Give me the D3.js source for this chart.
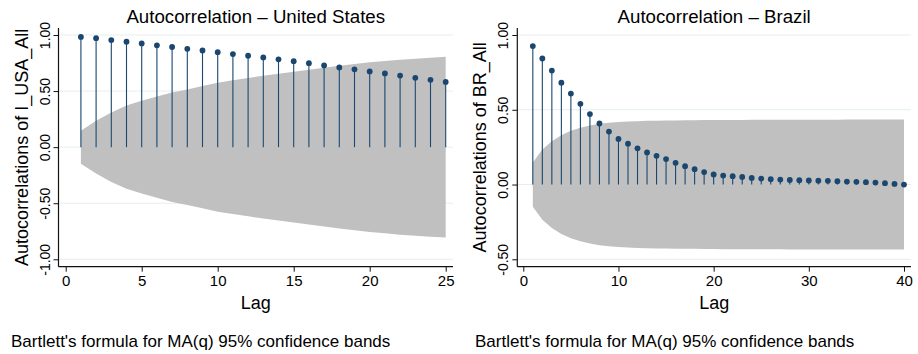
<!DOCTYPE html>
<html>
<head>
<meta charset="utf-8">
<script src="https://cdn.jsdelivr.net/npm/d3@7"></script>
<style>
  body { margin: 0; background: #fff; }
  svg { display: block; font-family: "Liberation Sans", Arial, Helvetica, sans-serif; }
</style>
</head>
<body>
<div id="chart"></div>
<script>
// lags
var usaLags = [1, 2, 3, 4, 5, 6, 7, 8, 9, 10, 11, 12, 13, 14, 15, 16, 17, 18, 19, 20, 21, 22, 23, 24, 25];
var brLags = [1, 2, 3, 4, 5, 6, 7, 8, 9, 10, 11, 12, 13, 14, 15, 16, 17, 18, 19, 20,
  21, 22, 23, 24, 25, 26, 27, 28, 29, 30, 31, 32, 33, 34, 35, 36, 37, 38, 39, 40];

// autocorrelations
var usaAcf = [0.983, 0.972, 0.955, 0.940, 0.925, 0.908, 0.893, 0.877, 0.862, 0.847, 0.830, 0.815, 0.800,
  0.783, 0.767, 0.749, 0.729, 0.711, 0.694, 0.675, 0.657, 0.638, 0.618, 0.600, 0.582];
var brAcf = [0.926, 0.843, 0.762, 0.681, 0.608, 0.540, 0.471, 0.408, 0.354, 0.305, 0.273, 0.242, 0.215,
  0.192, 0.170, 0.145, 0.123, 0.103, 0.083, 0.067, 0.060, 0.056, 0.051, 0.044, 0.040, 0.036, 0.033,
  0.031, 0.029, 0.027, 0.026, 0.025, 0.022, 0.020, 0.018, 0.016, 0.013, 0.009, 0.004, 0.000];

// 95% band half-widths (Bartlett)
var usaBand = [0.147, 0.235, 0.310, 0.372, 0.414, 0.452, 0.488, 0.515, 0.545, 0.575, 0.597, 0.617, 0.637,
  0.655, 0.672, 0.690, 0.708, 0.726, 0.741, 0.756, 0.768, 0.780, 0.789, 0.798, 0.806];
var brBand = [0.148, 0.235, 0.290, 0.330, 0.360, 0.380, 0.395, 0.406, 0.413, 0.418, 0.421, 0.424, 0.426,
  0.427, 0.428, 0.429, 0.430, 0.430, 0.431, 0.431, 0.432, 0.432, 0.432, 0.433, 0.433, 0.433, 0.433,
  0.434, 0.434, 0.434, 0.434, 0.434, 0.434, 0.435, 0.435, 0.435, 0.435, 0.435, 0.435, 0.435];

var usaYTicks = [-1, -0.5, 0, 0.5, 1];
var brYTicks = [-0.5, 0, 0.5, 1];
var usaXTicks = [0, 5, 10, 15, 20, 25];
var brXTicks = [0, 10, 20, 30, 40];

var width = 918, height = 354;
var navy = "#1a476f";

var svg = d3.select("#chart").append("svg")
  .attr("width", width)
  .attr("height", height);

function drawPanel(p) {
  var g = svg.append("g");

  var x = d3.scaleLinear().domain(p.xDomain).range([p.x0, p.x1]);
  var y = d3.scaleLinear().domain(p.yDomain).range([p.y0, p.y1]);

  var rows = p.lags.map(function (d, i) {
    return { lag: d, r: p.acf[i], band: p.band[i] };
  });

  // grid
  g.selectAll(".grid")
    .data(p.yTicks)
    .enter().append("line")
    .attr("x1", p.left).attr("x2", p.right)
    .attr("y1", function (d) { return y(d) })
    .attr("y2", function (d) { return y(d) })
    .attr("stroke", "#e6eef0")
    .attr("stroke-width", 1);

  // confidence band
  var area = d3.area()
    .x(function (d) { return x(d.lag) })
    .y0(function (d) { return y(-d.band) })
    .y1(function (d) { return y(d.band) });

  g.append("path")
    .datum(rows)
    .attr("d", area)
    .attr("fill", "#c0c0c0");

  // stems
  g.selectAll(".stem")
    .data(rows)
    .enter().append("line")
    .attr("x1", function (d) { return x(d.lag) })
    .attr("x2", function (d) { return x(d.lag) })
    .attr("y1", y(0))
    .attr("y2", function (d) { return y(d.r) })
    .attr("stroke", navy)
    .attr("stroke-width", 1.1);

  g.selectAll(".dot")
    .data(rows)
    .enter().append("circle")
    .attr("cx", function (d) { return x(d.lag) })
    .attr("cy", function (d) { return y(d.r) })
    .attr("r", 2.9)
    .attr("fill", navy);

  // y axis
  var yAxis = d3.axisLeft(y)
    .tickValues(p.yTicks)
    .tickFormat(function (d) { return d.toFixed(2) })
    .tickSize(5)
    .tickSizeOuter(0);

  var ya = g.append("g")
    .attr("transform", "translate(" + p.left + ",0)")
    .call(yAxis);
  ya.select(".domain").remove();
  ya.selectAll(".tick line").attr("stroke", "#111");
  ya.selectAll(".tick text")
    .attr("x", 0).attr("dy", 0)
    .attr("transform", "translate(-9,0) rotate(-90)")
    .attr("text-anchor", "middle")
    .attr("fill", "#000")
    .style("font-size", "14px");

  // x axis
  var xAxis = d3.axisBottom(x)
    .tickValues(p.xTicks)
    .tickSize(5)
    .tickSizeOuter(0)
    .tickPadding(4);

  var xa = g.append("g")
    .attr("transform", "translate(0," + p.bottom + ")")
    .call(xAxis);
  xa.select(".domain").remove();
  xa.selectAll(".tick line").attr("stroke", "#111");
  xa.selectAll(".tick text")
    .attr("fill", "#000")
    .style("font-size", "15px");

  // axis lines
  g.append("line")
    .attr("x1", p.left).attr("x2", p.left)
    .attr("y1", p.top).attr("y2", p.bottom)
    .attr("stroke", "#111").attr("stroke-width", 1.2);
  g.append("line")
    .attr("x1", p.left).attr("x2", p.right)
    .attr("y1", p.bottom).attr("y2", p.bottom)
    .attr("stroke", "#111").attr("stroke-width", 1.2);

  var cx = (p.left + p.right) / 2;

  g.append("text")
    .attr("x", cx).attr("y", 23)
    .attr("text-anchor", "middle")
    .style("font-size", "18.7px")
    .text(p.title);

  g.append("text")
    .attr("x", cx).attr("y", 309)
    .attr("text-anchor", "middle")
    .style("font-size", "18px")
    .text("Lag");

  g.append("text")
    .attr("transform", "translate(" + (p.left - 31) + "," + ((p.top + p.bottom) / 2) + ") rotate(-90)")
    .attr("text-anchor", "middle")
    .style("font-size", "18px")
    .text(p.yTitle);

  g.append("text")
    .attr("x", p.noteX).attr("y", 347)
    .style("font-size", "17px")
    .text("Bartlett's formula for MA(q) 95% confidence bands");
}

drawPanel({
  lags: usaLags, acf: usaAcf, band: usaBand,
  xDomain: [0, 25], yDomain: [-1, 1],
  x0: 65.7, x1: 445.7, y0: 259.3, y1: 35,
  left: 58.5, right: 453, top: 28, bottom: 266.7,
  yTicks: usaYTicks, xTicks: usaXTicks,
  title: "Autocorrelation \u2013 United States",
  yTitle: "Autocorrelations of I_USA_All",
  noteX: 11
});

drawPanel({
  lags: brLags, acf: brAcf, band: brBand,
  xDomain: [0, 40], yDomain: [-0.5, 1],
  x0: 523.3, x1: 904, y0: 259.3, y1: 35,
  left: 517.3, right: 911, top: 28, bottom: 266.7,
  yTicks: brYTicks, xTicks: brXTicks,
  title: "Autocorrelation \u2013 Brazil",
  yTitle: "Autocorrelations of BR_All",
  noteX: 475
});
</script>
</body>
</html>
